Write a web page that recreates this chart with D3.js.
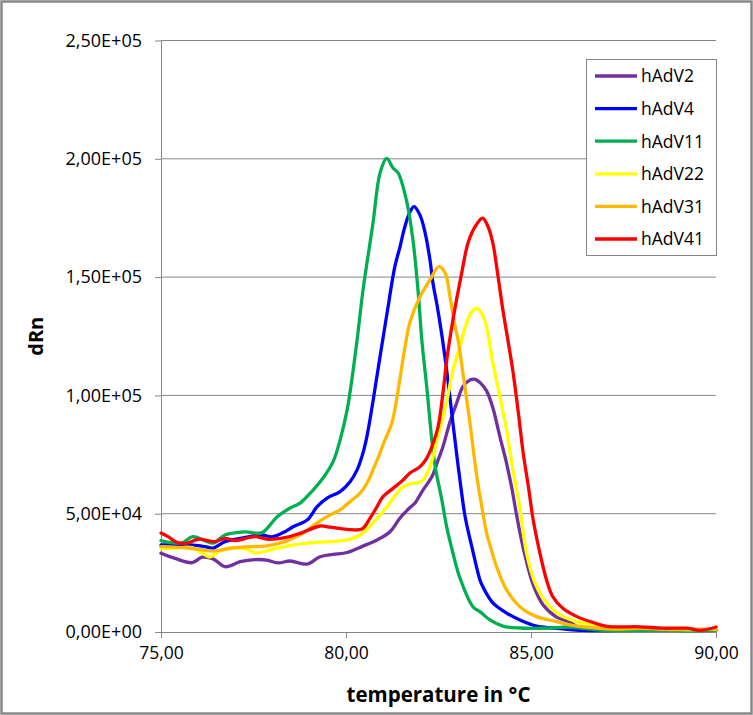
<!DOCTYPE html>
<html lang="en">
<head>
    <meta charset="UTF-8">
    <title>dRn melt curves</title>
    <script src="https://d3js.org/d3.v7.min.js"></script>
    <style>
        body { margin: 0; background: #fff; font-family: "Open Sans", sans-serif; }
        .grid line { stroke: #868686; stroke-width: 1px; }
        .axis path, .axis line { stroke: #868686; }
        .axis text { font-family: "Open Sans", sans-serif; fill: #000; }
        .series { fill: none; stroke-width: 3.3px; stroke-linejoin: round; stroke-linecap: round; }
    </style>
</head>
<body>
    <svg width="753" height="715"></svg>
    <script>
        // [temperature °C, dRn]
        const hAdV2 = [[75.00,33300],[75.38,31100],[75.84,29300],[76.11,31600],[76.41,30900],[76.73,27600],[77.14,29700],[77.54,30600],[77.86,30400],[78.16,29200],[78.49,30000],[78.95,28700],[79.30,31800],[79.65,32800],[80.03,33600],[80.46,36300],[80.84,38900],[81.19,42400],[81.46,48200],[81.73,52600],[81.86,54400],[82.08,60000],[82.32,65600],[82.49,72700],[82.62,78300],[82.81,88800],[82.99,96700],[83.16,103700],[83.35,106500],[83.49,106800],[83.65,105000],[83.80,101900],[83.97,94700],[84.16,82500],[84.34,71300],[84.48,60900],[84.61,49500],[84.79,35500],[85.06,19900],[85.33,11400],[85.69,6300],[86.05,4200],[86.32,1700],[87.2,1200],[88.2,1000],[89.2,1200],[90.0,1000]];
        const hAdV4 = [[75.00,36800],[75.78,36800],[76.19,36100],[76.41,35500],[76.73,38200],[77.19,39700],[77.73,41000],[78.00,40200],[78.35,42400],[78.57,44500],[78.95,47300],[79.22,53000],[79.49,56600],[79.84,59300],[80.11,63500],[80.30,68500],[80.46,75700],[80.57,83000],[80.73,97500],[80.92,116400],[81.11,134800],[81.32,154400],[81.46,162800],[81.59,171300],[81.73,177600],[81.84,179800],[82.00,176200],[82.14,168600],[82.27,157200],[82.35,147500],[82.46,138200],[82.59,125500],[82.73,109500],[82.89,88300],[83.00,74000],[83.08,64200],[83.22,48700],[83.40,36100],[83.62,22000],[83.70,19100],[83.97,12300],[84.34,8000],[84.70,5100],[85.15,2500],[85.59,1700],[86.2,800],[87.0,600],[88.0,1000],[89.0,800],[90.0,1000]];
        const hAdV11 = [[75.00,38600],[75.56,37600],[75.86,40300],[76.41,37600],[76.73,41000],[77.27,42300],[77.73,42000],[78.14,48700],[78.49,52400],[78.76,54500],[79.11,60000],[79.38,65100],[79.65,71900],[79.84,81100],[80.03,93800],[80.11,101400],[80.30,123400],[80.46,144500],[80.73,172900],[80.92,194000],[81.10,200200],[81.27,196100],[81.41,194000],[81.65,181300],[81.81,165700],[81.95,143700],[82.05,123400],[82.19,102300],[82.32,81100],[82.41,69900],[82.59,55800],[82.72,44500],[82.89,33400],[83.08,22800],[83.43,10700],[83.62,8600],[83.89,5100],[84.24,2500],[84.70,1700],[85.59,1700],[86.05,2100],[86.86,800],[87.5,600],[88.5,800],[89.5,500],[90.0,800]];
        const hAdV22 = [[75.00,35100],[75.38,35500],[75.84,35700],[76.11,33400],[76.32,31700],[76.59,34200],[76.95,35500],[77.32,34900],[77.59,33400],[77.95,34700],[78.35,36100],[78.95,37600],[79.57,38200],[80.03,38900],[80.38,41000],[80.73,46100],[81.11,53000],[81.38,58700],[81.54,61300],[81.73,62600],[81.92,63000],[82.08,64200],[82.27,69900],[82.46,81100],[82.73,98100],[82.89,110700],[83.08,120600],[83.26,130600],[83.40,135400],[83.54,136800],[83.69,134000],[83.80,129000],[83.97,113700],[84.16,99500],[84.34,85400],[84.48,71400],[84.61,60000],[84.70,52400],[84.88,33400],[85.11,20700],[85.42,12300],[85.78,7200],[86.24,4400],[86.78,3000],[87.5,1800],[88.3,1500],[89.2,1000],[90.0,1200]];
        const hAdV31 = [[75.00,36100],[75.73,35500],[76.41,34200],[76.92,35500],[77.46,36100],[77.81,36300],[78.35,38200],[78.57,39700],[78.84,41800],[79.22,46100],[79.57,49500],[79.84,51600],[80.11,55100],[80.38,58700],[80.57,63000],[80.73,68500],[80.92,75700],[81.05,81100],[81.24,88300],[81.41,102300],[81.59,120000],[81.73,131000],[82.00,141700],[82.27,148800],[82.51,154400],[82.68,151700],[82.81,141700],[82.95,129000],[83.03,123400],[83.16,109500],[83.35,88300],[83.53,66400],[83.67,53000],[83.80,41800],[83.89,36800],[84.07,27600],[84.34,17800],[84.70,10700],[85.15,6500],[85.69,4400],[86.05,3000],[86.51,2100],[87.2,1200],[88.0,1500],[89.0,1000],[90.0,1200]];
        const hAdV41 = [[75.00,41800],[75.19,40300],[75.46,37700],[75.73,37700],[76.00,39200],[76.46,38200],[76.73,39600],[77.00,38600],[77.54,40300],[77.89,39200],[78.35,39900],[78.76,41700],[79.30,44800],[79.57,44300],[80.03,43400],[80.43,43500],[80.65,48100],[80.84,53000],[81.00,57200],[81.27,60700],[81.54,64200],[81.73,67200],[82.00,69900],[82.18,73400],[82.32,78300],[82.49,86800],[82.62,101000],[82.73,115800],[82.89,131900],[83.13,152000],[83.30,164500],[83.49,171300],[83.69,174900],[83.84,171300],[83.97,164300],[84.11,150200],[84.24,136100],[84.39,122000],[84.52,109300],[84.66,92400],[84.79,75500],[84.93,61400],[85.06,47300],[85.24,33400],[85.42,22000],[85.59,14900],[85.86,10000],[86.24,6500],[86.68,4000],[87.05,2400],[87.95,2200],[88.57,1600],[89.22,1600],[89.57,700],[90.0,2100]];

        const seriesNames = ["hAdV2", "hAdV4", "hAdV11", "hAdV22", "hAdV31", "hAdV41"];
        const seriesData = [hAdV2, hAdV4, hAdV11, hAdV22, hAdV31, hAdV41];
        const colors = ["#7030A0", "#0000FF", "#00B050", "#FFFF00", "#FFB800", "#FF0000"];
        const xTicks = [75, 80, 85, 90];
        const yTicks = [0, 50000, 100000, 150000, 200000, 250000];

        const width = 753, height = 715;
        const margin = {top: 40.5, right: 37, bottom: 83, left: 161};
        const svg = d3.select("svg");

        // outer chart border
        svg.append("rect")
            .attr("x", 1.5).attr("y", 1.5)
            .attr("width", width - 3).attr("height", height - 3)
            .attr("fill", "#fff")
            .attr("stroke", "#888")
            .attr("stroke-width", 2.5);

        const x = d3.scaleLinear().domain([75, 90]).range([margin.left, width - margin.right]);
        const y = d3.scaleLinear().domain([0, 250000]).range([height - margin.bottom, margin.top]);

        const fmtX = d => d3.format(".2f")(d).replace(".", ",");
        const fmtY = d => {
            const e = d === 0 ? 0 : Math.floor(Math.log10(d));
            const m = d / Math.pow(10, e);
            const sign = e >= 0 ? "+" : "-";
            return m.toFixed(2).replace(".", ",") + "E" + sign + String(Math.abs(e)).padStart(2, "0");
        };

        // horizontal gridlines
        svg.append("g").attr("class", "grid")
            .selectAll("line")
            .data(yTicks.slice(1))
            .join("line")
            .attr("x1", x(75)).attr("x2", x(90))
            .attr("y1", d => y(d)).attr("y2", d => y(d));

        const yAxis = svg.append("g").attr("class", "axis")
            .attr("transform", `translate(${x(75)},0)`)
            .call(d3.axisLeft(y).tickValues(yTicks).tickFormat(fmtY).tickSize(6).tickSizeOuter(0).tickPadding(13));
        yAxis.selectAll("text").style("font-size", "18px");

        const xAxis = svg.append("g").attr("class", "axis")
            .attr("transform", `translate(0,${y(0)})`)
            .call(d3.axisBottom(x).tickValues(xTicks).tickFormat(fmtX).tickSize(6).tickSizeOuter(0).tickPadding(9));
        xAxis.selectAll("text").style("font-size", "17.5px");

        const line = d3.line()
            .x(d => x(d[0]))
            .y(d => y(d[1]))
            .curve(d3.curveCatmullRom.alpha(0.5));

        svg.append("g")
            .selectAll("path")
            .data(seriesData)
            .join("path")
            .attr("class", "series")
            .attr("stroke", (d, i) => colors[i])
            .attr("d", line);

        // axis titles
        svg.append("text")
            .attr("x", (x(75) + x(90)) / 2).attr("y", 702)
            .attr("text-anchor", "middle")
            .style("font-size", "20.5px").style("font-weight", "bold")
            .text("temperature in °C");

        svg.append("text")
            .attr("transform", `translate(43,${(y(0) + y(250000)) / 2}) rotate(-90)`)
            .attr("text-anchor", "middle")
            .style("font-size", "20px").style("font-weight", "bold")
            .text("dRn");

        // legend
        const legend = svg.append("g");
        legend.append("rect")
            .attr("x", 586.5).attr("y", 59.5)
            .attr("width", 130).attr("height", 196)
            .attr("fill", "#fff").attr("stroke", "#868686");
        const rowY = d3.scalePoint().domain(seriesNames).range([76, 239]);
        const item = legend.selectAll("g.item")
            .data(seriesNames)
            .join("g")
            .attr("transform", d => `translate(0,${rowY(d)})`);
        item.append("line")
            .attr("x1", 595).attr("x2", 637)
            .attr("stroke", (d, i) => colors[i])
            .attr("stroke-width", 3.3);
        item.append("text")
            .attr("x", 641).attr("dy", "0.36em")
            .style("font-size", "17.5px")
            .text(d => d);
    </script>
</body>
</html>
